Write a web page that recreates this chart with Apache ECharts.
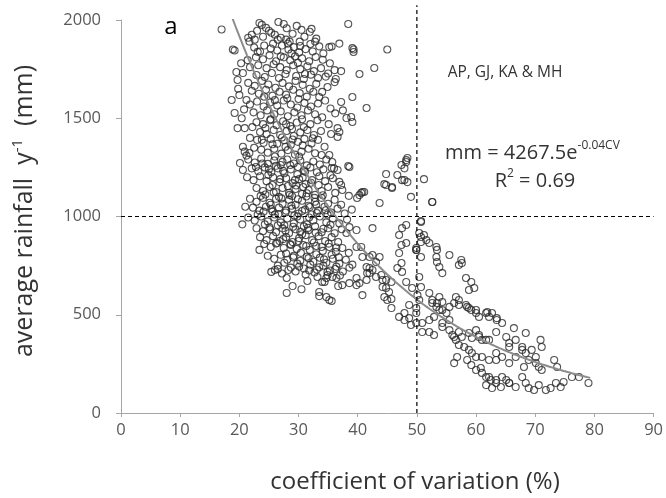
<!DOCTYPE html>
<html>
<head>
<meta charset="utf-8">
<script src="https://cdn.jsdelivr.net/npm/echarts@6/dist/echarts.min.js"></script>
<style>
  html, body { margin: 0; padding: 0; background: #fff; }
  #chart { width: 666px; height: 498px; }
</style>
</head>
<body>
<div id="chart"></div>
<script>
// axis ticks
const xTicks = [0, 10, 20, 30, 40, 50, 60, 70, 80, 90]
const yTicks = [0, 500, 1000, 1500, 2000]

// fitted curve: mm = 4267.5 e^(-0.04 CV)
const fitA = 4267.5
const fitB = -0.04
const fitRange = [18.8, 79.5]

// [CV %, rainfall mm]
const topBand = [
  [17, 1952], [23.4, 1985], [23.8, 1975], [26.6, 1990], [27.5, 1980], [29.7, 1970], [32.2, 1955],
  [31.9, 1940], [38.4, 1980], [22.1, 1925], [22.6, 1900], [21.7, 1890], [25.4, 1935], [26, 1925],
  [28.5, 1890], [28.2, 1880], [30.2, 1890], [24.5, 1960], [25, 1945], [27, 1910], [29, 1930],
  [31, 1915], [33, 1905], [30.5, 1950], [23, 1945], [21.5, 1910], [28, 1958], [26.5, 1900],
  [32.8, 1890], [24, 1915]
]

const upperBand = [
  [18.9, 1850], [19.2, 1845], [21.4, 1796], [19.5, 1735], [20.6, 1730], [19.7, 1695], [35.6, 1865],
  [36.9, 1880], [35.2, 1862], [39.3, 1850], [39.1, 1857], [39.3, 1837], [45, 1850], [42.8, 1756],
  [40.3, 1725], [37.2, 1740], [22.5, 1860], [23.5, 1840], [24.2, 1870], [25.3, 1855], [26.4, 1845],
  [27.2, 1870], [28.3, 1850], [29.2, 1862], [30.1, 1835], [31.2, 1852], [32.4, 1840], [33.5, 1866],
  [34.2, 1830], [22.8, 1810], [24, 1800], [25.1, 1820], [26.2, 1790], [27.5, 1810], [28.6, 1795],
  [29.4, 1815], [30.6, 1805], [31.8, 1790], [32.9, 1812], [34.1, 1798], [35.3, 1780], [23.2, 1770],
  [24.6, 1755], [25.8, 1775], [26.9, 1760], [28, 1745], [29.1, 1770], [30.3, 1750], [31.5, 1765],
  [32.6, 1740], [33.8, 1755], [35, 1728], [36.1, 1745], [21.8, 1760], [22.9, 1720], [24.3, 1710],
  [25.5, 1730], [26.7, 1705], [27.8, 1725], [29.6, 1715], [30.9, 1700], [32.1, 1722], [33.3, 1705],
  [34.6, 1712], [36.3, 1700], [20.3, 1780], [28.8, 1830], [27, 1815]
]

const highBand = [
  [18.7, 1593], [20, 1618], [21.2, 1593], [19.2, 1527], [20.4, 1500], [36.1, 1684], [34.9, 1659],
  [34, 1634], [33.5, 1608], [37.2, 1583], [39.1, 1608], [41.5, 1552], [38.1, 1501], [38.9, 1506],
  [39.1, 1481], [21.5, 1680], [22.6, 1665], [23.8, 1690], [24.9, 1672], [26.1, 1655], [27.3, 1680],
  [28.4, 1662], [29.5, 1690], [30.7, 1670], [31.9, 1650], [33, 1675], [22.1, 1640], [23.3, 1625],
  [24.5, 1645], [25.6, 1615], [26.8, 1635], [27.9, 1620], [29.1, 1645], [30.2, 1628], [31.4, 1610],
  [32.5, 1635], [34.5, 1590], [21.8, 1570], [23, 1585], [24.1, 1560], [25.2, 1580], [26.4, 1565],
  [27.5, 1590], [28.7, 1570], [29.8, 1555], [31, 1578], [32.1, 1560], [33.3, 1575], [35.4, 1550],
  [22.4, 1530], [23.6, 1515], [24.7, 1540], [25.9, 1520], [27, 1535], [28.2, 1510], [29.3, 1530],
  [30.5, 1515], [31.6, 1540], [32.8, 1520], [34, 1505], [36.2, 1525], [37.5, 1540], [19.8, 1650],
  [20.8, 1545]
]

const midBand = [
  [19.7, 1450], [20.9, 1450], [22.2, 1455], [20.6, 1355], [20.9, 1330], [21.7, 1323], [36.6, 1450],
  [36.9, 1430], [36.6, 1405], [34.4, 1355], [33.9, 1313], [35.2, 1313], [22.9, 1480], [24, 1470],
  [25.2, 1490], [26.3, 1465], [27.4, 1485], [28.6, 1460], [29.7, 1478], [30.9, 1455], [32, 1470],
  [33.2, 1490], [35.1, 1470], [23.5, 1430], [24.6, 1420], [25.8, 1440], [26.9, 1415], [28, 1435],
  [29.2, 1410], [30.3, 1428], [31.5, 1440], [32.6, 1415], [33.8, 1435], [35.5, 1420], [21.8, 1400],
  [23, 1390], [24.1, 1375], [25.3, 1395], [26.4, 1370], [27.6, 1388], [28.7, 1365], [29.9, 1380],
  [31, 1395], [32.2, 1372], [33.3, 1390], [22.5, 1350], [23.7, 1340], [24.8, 1325], [25.9, 1345],
  [27.1, 1320], [28.2, 1338], [29.4, 1315], [30.5, 1330], [31.7, 1345], [32.8, 1322], [21.2, 1310],
  [26, 1305], [27.8, 1355], [30.1, 1305], [24.4, 1450], [28.9, 1445]
]

const denseBand = [
  [20.1, 1272], [20.6, 1237], [36.6, 1237], [36.9, 1176], [37.2, 1160], [35.7, 1277], [35.6, 1247],
  [38.6, 1252], [38.4, 1257], [36, 1245], [40.3, 1109], [40.8, 1125], [39.9, 1094], [44.8, 1216],
  [44.8, 1160], [45.8, 1145], [46.7, 1211], [47.9, 1186], [48.2, 1277], [48.4, 1298], [47.4, 1262],
  [48.2, 1287], [47.9, 1245], [44.5, 1165], [45.8, 1150], [47.5, 1185], [48.4, 1175], [51.2, 1190],
  [40.6, 1120], [41.1, 1125], [49, 1100], [52.6, 1074], [21.5, 1290], [22.6, 1275], [23.7, 1295],
  [24.8, 1268], [25.9, 1285], [27, 1262], [28.1, 1290], [29.2, 1270], [30.3, 1285], [31.4, 1260],
  [32.5, 1280], [33.6, 1265], [34.7, 1290], [22.1, 1245], [23.2, 1230], [24.3, 1250], [25.4, 1225],
  [26.5, 1245], [27.6, 1220], [28.7, 1240], [29.8, 1215], [30.9, 1235], [32, 1250], [33.1, 1225],
  [34.2, 1240], [35.4, 1210], [21.3, 1200], [22.4, 1185], [23.5, 1205], [24.6, 1180], [25.7, 1200],
  [26.8, 1175], [27.9, 1195], [29, 1170], [30.1, 1190], [31.2, 1165], [32.3, 1185], [33.4, 1160],
  [34.5, 1180], [35.8, 1195], [22.9, 1145], [24, 1130], [25.1, 1150], [26.2, 1125], [27.3, 1145],
  [28.4, 1120], [29.5, 1140], [30.6, 1115], [31.7, 1135], [32.8, 1110], [33.9, 1130], [35, 1150],
  [36.2, 1120], [37.4, 1135], [38.5, 1105], [23.6, 1105], [26.7, 1100], [28.9, 1104], [31.3, 1102],
  [24.9, 1212], [28.6, 1262], [30.7, 1198], [27.4, 1232], [29.6, 1158]
]

const coreBand = [
  [42.5, 941], [38.6, 946], [39.8, 931], [38.1, 916], [47.5, 941], [47, 906], [48.2, 957],
  [50.7, 972], [50.7, 977], [43.7, 1069], [21.8, 1090], [22.9, 1075], [24, 1095], [25.1, 1070],
  [26.2, 1090], [27.3, 1065], [28.4, 1085], [29.5, 1060], [30.6, 1080], [31.7, 1055], [32.8, 1075],
  [33.9, 1095], [35, 1065], [36.1, 1085], [37.2, 1060], [22.3, 1045], [23.4, 1030], [24.5, 1050],
  [25.6, 1025], [26.7, 1045], [27.8, 1020], [28.9, 1040], [30, 1015], [31.1, 1035], [32.2, 1010],
  [33.3, 1030], [34.4, 1050], [35.5, 1020], [36.6, 1040], [37.8, 1015], [39, 1035], [21.5, 995],
  [22.6, 980], [23.7, 1000], [24.8, 975], [25.9, 995], [27, 970], [28.1, 990], [29.2, 965],
  [30.3, 985], [31.4, 960], [32.5, 980], [33.6, 1000], [34.7, 970], [35.8, 990], [36.9, 965],
  [38.2, 985], [22.9, 940], [24, 925], [25.1, 945], [26.2, 920], [27.3, 940], [28.4, 915],
  [29.5, 935], [30.6, 910], [31.7, 930], [32.8, 950], [33.9, 920], [35, 940], [36.1, 915],
  [37.3, 935], [23.5, 895], [24.6, 880], [25.7, 900], [26.8, 875], [27.9, 895], [29, 870],
  [30.1, 890], [31.2, 905], [32.3, 880], [33.4, 900], [34.5, 875], [35.6, 895], [36.7, 870],
  [26, 1010], [29.8, 1000], [31.8, 995], [27.6, 955], [30.9, 950], [25.3, 1060], [28.8, 1055],
  [33, 1060], [24.3, 960], [34.9, 1010], [23.1, 1010], [21, 1050], [20.5, 960]
]

const coreExtra = [
  [25.6, 1160], [26.9, 1190], [28.2, 1155], [29.4, 1185], [30.8, 1150], [32.1, 1172], [24.4, 1112],
  [25.8, 1122], [27.1, 1092], [28.5, 1110], [29.9, 1088], [31.4, 1118], [32.7, 1095], [34.1, 1108],
  [24.1, 1025], [25.4, 1038], [26.6, 1012], [27.9, 1030], [29.3, 1005], [30.6, 1028], [31.9, 1048],
  [33.1, 1018], [34.6, 1032], [25.2, 935], [26.5, 955], [27.8, 928], [29.1, 948], [30.3, 922],
  [31.6, 942], [32.9, 918], [34.2, 938], [35.4, 958], [26.2, 862], [27.4, 885], [28.7, 855],
  [30, 875], [31.3, 850], [32.6, 868], [33.9, 845], [35.1, 862], [36.4, 842], [27.9, 812],
  [29.1, 792], [30.4, 815], [31.7, 788], [33, 808], [34.3, 782], [35.6, 805], [36.8, 792],
  [28.3, 728], [30.1, 745], [31.8, 725], [33.5, 742], [34.9, 718], [36.2, 733], [22.8, 1252],
  [23.9, 1270], [25, 1240], [26.2, 1258], [27.3, 1278], [29.9, 1252], [31.1, 1228], [33.5, 1205],
  [23.8, 1390], [25.6, 1368], [27.2, 1402], [29, 1392], [30.7, 1362], [32.4, 1398], [24.2, 1610],
  [26, 1592], [28.1, 1602], [30, 1598], [23.1, 1838], [25.7, 1880], [27.9, 1900], [30.3, 1868],
  [32, 1878], [29.9, 1782], [31.1, 1725], [25.3, 1495], [27.9, 1470], [30.6, 1495]
]

const lowBand = [
  [23.4, 830], [41.5, 743], [42.5, 728], [42, 712], [43.1, 692], [44.2, 677], [39.8, 845],
  [40.6, 845], [40.8, 794], [42, 794], [43.7, 794], [42.5, 804], [43.1, 768], [42, 738],
  [41.6, 712], [47.4, 855], [48.2, 865], [47, 814], [47.4, 763], [46.7, 738], [47.5, 718],
  [49.9, 840], [50.7, 870], [51.2, 906], [50.4, 916], [50.7, 896], [51.6, 880], [52.1, 865],
  [49.9, 830], [50.7, 794], [53.3, 845], [53.4, 830], [53.3, 794], [53.4, 768], [53.8, 743],
  [54.3, 712], [55.5, 804], [57.5, 779], [57.1, 753], [57.6, 763], [25.4, 718], [26, 728],
  [26.5, 733], [33.2, 692], [35.7, 692], [34.7, 687], [44, 702], [24.2, 860], [25.3, 845],
  [26.4, 865], [27.5, 840], [28.6, 860], [29.7, 835], [30.8, 855], [31.9, 830], [33, 850],
  [34.1, 825], [35.2, 845], [36.3, 820], [37.4, 840], [38.5, 815], [24.8, 800], [25.9, 785],
  [27, 805], [28.1, 780], [29.2, 800], [30.3, 775], [31.4, 795], [32.5, 770], [33.6, 790],
  [34.7, 765], [35.8, 785], [36.9, 760], [38, 780], [39.1, 755], [26.5, 750], [27.6, 765],
  [28.7, 740], [29.8, 760], [30.9, 735], [32, 755], [33.1, 730], [34.2, 750], [35.3, 725],
  [36.4, 745], [37.5, 720], [38.6, 740], [27.2, 710], [29.5, 720], [31.2, 705], [32.7, 715],
  [37, 700]
]

const bottomBand = [
  [28, 687], [28, 611], [29, 646], [31.5, 672], [34, 667], [33.5, 595], [34.7, 590], [35.6, 570],
  [36.7, 646], [39.8, 651], [40.8, 600], [41.5, 677], [40.3, 661], [39.8, 687], [38.6, 661],
  [37.4, 651], [36.4, 687], [34.9, 702], [34.4, 667], [33.5, 616], [35.2, 575], [30.5, 630],
  [44.8, 636], [44.5, 590], [45.7, 580], [45.7, 534], [44.8, 677], [45.7, 667], [44.2, 641],
  [45.3, 616], [45, 575], [48.2, 667], [49.2, 636], [50.1, 600], [50.4, 575], [48.7, 550],
  [49.9, 534], [47, 489], [47.9, 509], [48.7, 483], [49, 448], [49.9, 458], [47.9, 473],
  [50.4, 692], [50.7, 641], [58.3, 687], [59.2, 667], [58.8, 626], [59.7, 636]
]

const tailPoints = [
  [52.1, 611], [53.8, 590], [52.6, 560], [53.3, 540], [54.3, 524], [55.5, 540], [56.3, 560],
  [57.1, 575], [58.5, 540], [59.2, 524], [60, 509], [60.5, 489], [61.7, 509], [62.2, 489],
  [63.5, 473], [64.4, 458], [49.9, 509], [50.9, 458], [52.1, 473], [50.9, 412], [52.1, 412],
  [52.9, 397], [54.3, 438], [55.5, 422], [56, 397], [57.1, 412], [57.6, 387], [58.8, 407],
  [60, 422], [60.5, 397], [61, 372], [62.2, 372], [56.6, 372], [57.1, 346], [58, 336],
  [58.8, 321], [59.3, 305], [60, 285], [63.4, 412], [65.1, 387], [65.6, 356], [66.7, 372],
  [67.8, 336], [68.4, 305], [69.4, 321], [70.1, 285], [71.1, 336], [58.5, 270], [59.2, 244],
  [60, 219], [60.8, 229], [61.7, 183], [62.5, 168], [61.7, 142], [62.7, 127], [63.4, 153],
  [64.2, 132], [65.1, 168], [65.6, 153], [66.7, 132], [67.8, 183], [68.4, 153], [68.9, 127],
  [69.8, 117], [70.6, 142], [71.8, 117], [72.6, 127], [73.5, 153], [74.3, 132], [74.8, 158],
  [73.2, 270], [76.2, 183], [77.4, 183], [79, 153], [63.4, 270], [65.6, 254], [66.7, 285],
  [68.1, 234], [70.1, 254], [71.1, 219], [61.9, 514], [62.7, 509], [63.5, 483], [66.4, 432],
  [68.4, 407], [70.9, 372], [73.7, 234], [52.6, 575], [53.4, 560], [54.3, 565], [53.8, 524],
  [55, 509], [52.9, 489], [55.5, 473], [54.3, 458], [56.6, 590], [57.1, 550], [58.3, 550],
  [58.8, 534], [60, 524], [56.3, 387], [59.3, 382], [60.5, 387], [61.7, 372], [61, 285],
  [62.2, 270], [63.4, 305], [64.4, 285], [56.3, 254], [56.8, 285], [65.6, 336], [67.8, 321],
  [68.9, 270], [70.6, 234], [61, 204], [62.2, 183], [63.4, 168], [64.4, 183], [65.6, 153],
  [52.6, 1074], [49.9, 830]
]

const allPoints = [].concat(topBand, upperBand, highBand, midBand, denseBand, coreBand, coreExtra, lowBand, bottomBand, tailPoints)

let fitLine = []
for (let cv = fitRange[0]; cv <= fitRange[1] + 0.001; cv += 0.5) {
  fitLine.push([cv, fitA * Math.exp(fitB * cv)])
}

let chart = echarts.init(document.getElementById('chart'))
let labelColor = '#595959'
let titleColor = '#333'
let font = 'Open Sans'
var option = {
  animation: false,
  grid: { left: 121, right: 11, top: 20, bottom: 85 },
  xAxis: {
    type: 'value',
    min: xTicks[0],
    max: xTicks[xTicks.length - 1],
    interval: 10,
    splitLine: { show: false },
    axisLine: { lineStyle: { color: '#a6a6a6', width: 1 } },
    axisTick: { show: true, length: 4, lineStyle: { color: '#a6a6a6' } },
    axisLabel: { color: labelColor, fontSize: 16.5, fontFamily: font, margin: 9 }
  },
  yAxis: {
    type: 'value',
    min: yTicks[0],
    max: yTicks[yTicks.length - 1],
    interval: 500,
    splitLine: { show: false },
    axisLine: { show: true, lineStyle: { color: '#a6a6a6', width: 1 } },
    axisTick: { show: true, length: 5, lineStyle: { color: '#a6a6a6' } },
    axisLabel: {
      color: labelColor, fontSize: 16.5, fontFamily: font, margin: 20,
      formatter: function(v) { return String(v) }
    }
  },
  graphic: [
    // axis titles
    {
      type: 'text', x: 415, y: 482,
      style: { text: 'coefficient of variation (%)', fill: titleColor, fontSize: 24, fontFamily: font, align: 'center', verticalAlign: 'middle' }
    },
    {
      type: 'text', x: 25, y: 211, rotation: Math.PI / 2,
      style: {
        text: '{a|average rainfall  y}{s|-1}{a|  (mm)}',
        align: 'center', verticalAlign: 'middle',
        rich: {
          a: { fill: titleColor, fontSize: 25, fontFamily: font, lineHeight: 30 },
          s: { fill: titleColor, fontSize: 15, fontFamily: font, verticalAlign: 'top', lineHeight: 30 }
        }
      }
    },
    { type: 'text', x: 171, y: 27, style: { text: 'a', fill: '#000', fontSize: 24, fontFamily: font, align: 'center', verticalAlign: 'middle' } },
    { type: 'text', x: 505, y: 73, style: { text: 'AP, GJ, KA & MH', fill: titleColor, fontSize: 15.5, fontFamily: font, align: 'center', verticalAlign: 'middle' } },
    {
      type: 'text', x: 445, y: 153,
      style: {
        text: '{m|mm = 4267.5e}{s|-0.04CV}',
        verticalAlign: 'middle',
        rich: {
          m: { fill: titleColor, fontSize: 20, fontFamily: font, lineHeight: 26 },
          s: { fill: titleColor, fontSize: 12, fontFamily: font, verticalAlign: 'top', lineHeight: 26 }
        }
      }
    },
    {
      type: 'text', x: 535, y: 181,
      style: {
        text: '{m|R}{s|2}{m| = 0.69}',
        align: 'center', verticalAlign: 'middle',
        rich: {
          m: { fill: titleColor, fontSize: 20, fontFamily: font, lineHeight: 26 },
          s: { fill: titleColor, fontSize: 12, fontFamily: font, verticalAlign: 'top', lineHeight: 26 }
        }
      }
    }
  ],
  series: [
    {
      name: 'points',
      type: 'scatter',
      symbol: 'circle',
      symbolSize: 7,
      itemStyle: { color: 'rgba(255,255,255,0)', borderColor: '#2a2a2a', borderWidth: 1.1 },
      data: allPoints,
      z: 2
    },
    {
      name: 'fit',
      type: 'line',
      data: fitLine,
      smooth: true,
      symbol: 'none',
      lineStyle: { color: '#8c8c8c', width: 2 },
      z: 3
    },
    {
      name: 'v50',
      type: 'line',
      data: [[50, 0], [50, 2075]],
      clip: false,
      symbol: 'none',
      lineStyle: { color: '#000', width: 1.2, type: [4, 3] },
      z: 4
    },
    {
      name: 'h1000',
      type: 'line',
      data: [[0, 1000], [90, 1000]],
      symbol: 'none',
      lineStyle: { color: '#000', width: 1.2, type: [4, 3] },
      z: 4
    }
  ]
}
chart.setOption(option)
</script>
</body>
</html>
